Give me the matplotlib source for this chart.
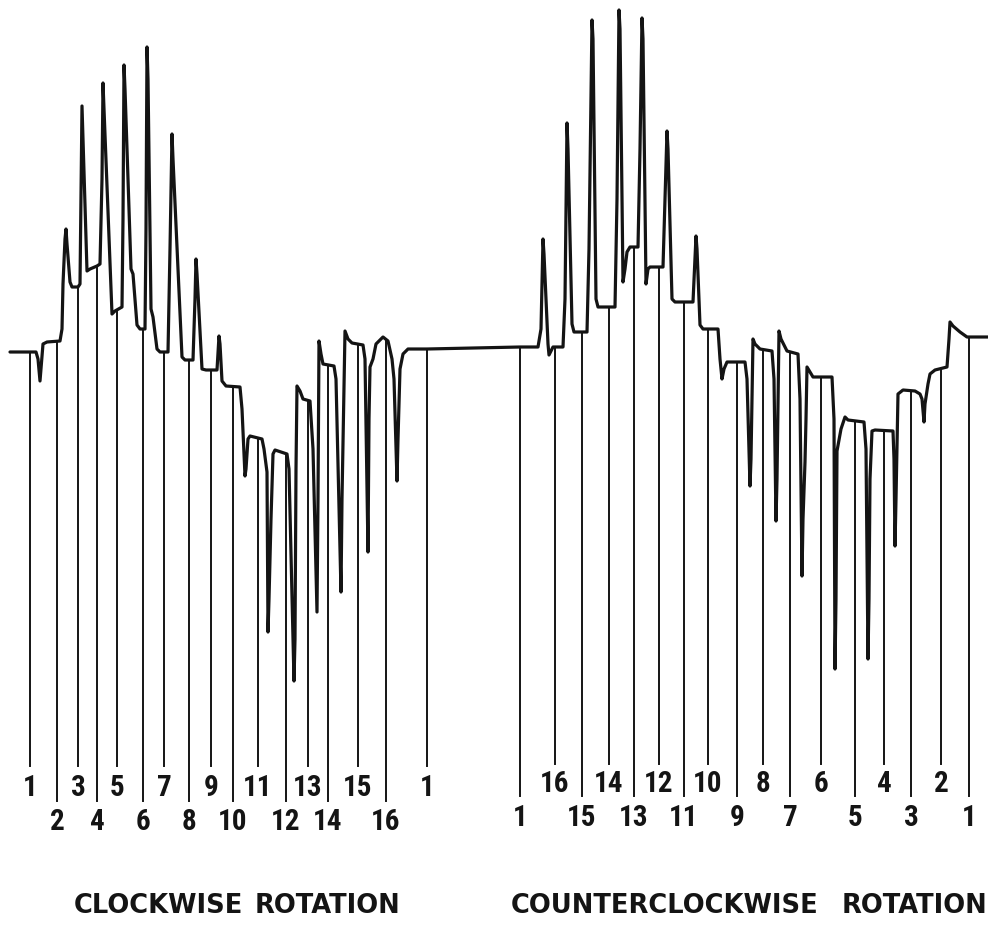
import numpy as np
import matplotlib
matplotlib.use('Agg')
import matplotlib.pyplot as plt
from matplotlib import font_manager

# pen trace (x, y in chart units, y grows downward)
trace_x = [10, 36, 38, 40, 41, 43, 47, 60, 62, 63, 65, 66, 67, 70, 72, 78, 80, 81, 82, 83, 87, 90, 97, 100,
           102, 103, 104, 112, 115, 122, 123, 124, 125, 131, 133, 137, 140, 145, 146, 147, 148, 151, 153, 157,
           160, 168, 170, 172, 173, 182, 185, 193, 195, 196, 197, 202, 206, 217, 219, 220, 222, 226, 240, 242,
           245, 246, 248, 250, 262, 264, 267, 268, 269, 271, 273, 275, 287, 289, 294, 295, 296, 297, 300, 303,
           310, 313, 317, 318, 319, 321, 323, 334, 336, 341, 342, 345, 348, 352, 363, 365, 368, 369, 370, 373,
           376, 383, 388, 392, 394, 397, 398, 400, 403, 408, 427, 520,
           538, 541, 543, 544, 548, 549, 551, 553, 563, 565, 567, 568, 572, 574, 587, 589, 592, 593, 596, 598,
           615, 617, 619, 620, 623, 625, 627, 630, 638, 640, 642, 643, 646, 648, 650, 663, 665, 667, 668, 672,
           675, 693, 695, 696, 697, 700, 703, 718, 720, 722, 724, 727, 745, 747, 750, 751, 753, 755, 760, 772,
           774, 776, 777, 779, 781, 787, 798, 800, 802, 803, 805, 806, 807, 810, 813, 832, 834, 835, 836, 837,
           841, 845, 848, 864, 866, 868, 869, 870, 872, 875, 893, 894, 895, 896, 898, 903, 915, 920, 922, 924,
           925, 928, 930, 935, 947, 949, 950, 953, 960, 967, 988]
trace_y = [353, 353, 360, 382, 370, 345, 343, 342, 330, 285, 240, 230, 245, 283, 288, 288, 285, 200, 107, 140,
           272, 270, 267, 265, 180, 84, 110, 315, 312, 308, 220, 66, 90, 270, 275, 326, 330, 330, 230, 48, 80,
           310, 318, 350, 353, 353, 250, 135, 160, 358, 361, 361, 300, 260, 275, 370, 371, 371, 337, 345, 382,
           387, 388, 410, 477, 470, 440, 437, 440, 450, 473, 633, 600, 520, 455, 451, 455, 470, 682, 640, 470,
           387, 392, 400, 402, 450, 613, 500, 342, 355, 365, 367, 380, 593, 500, 332, 340, 344, 346, 360, 553,
           420, 368, 360, 345, 338, 342, 360, 380, 482, 440, 370, 355, 350, 350, 348,
           348, 330, 240, 255, 345, 356, 352, 348, 348, 300, 124, 150, 325, 333, 333, 250, 21, 40, 300, 308,
           308, 200, 11, 30, 283, 270, 253, 248, 248, 150, 19, 40, 285, 270, 268, 268, 200, 132, 150, 300,
           303, 303, 260, 237, 250, 326, 330, 330, 360, 380, 370, 363, 363, 380, 487, 460, 340, 345, 350, 352,
           380, 522, 480, 332, 340, 352, 355, 400, 577, 520, 463, 420, 368, 373, 378, 378, 420, 670, 600, 452,
           430, 418, 421, 423, 450, 660, 600, 480, 432, 431, 432, 460, 547, 500, 395, 391, 392, 395, 400, 423,
           405, 385, 375, 371, 368, 340, 323, 327, 333, 338, 338]

# event marker positions and their numbers
cw_marks = [30, 57, 78, 97, 117, 143, 164, 189, 211, 233, 258, 286, 308, 328, 358, 386, 427]
cw_labels = ['1', '2', '3', '4', '5', '6', '7', '8', '9', '10', '11', '12', '13', '14', '15', '16', '1']
ccw_marks = [520, 555, 582, 609, 634, 659, 684, 708, 737, 763, 790, 821, 855, 884, 911, 941, 969]
ccw_labels = ['1', '16', '15', '14', '13', '12', '11', '10', '9', '8', '7', '6', '5', '4', '3', '2', '1']

# caption words and where each one is centred
cw_words = ['CLOCKWISE', 'ROTATION']
cw_word_x = [158, 327]
ccw_words = ['COUNTERCLOCKWISE', 'ROTATION']
ccw_word_x = [665, 914]

ink = '#141414'

# narrow lettering if we have it, else plain DejaVu a bit smaller
have = {f.name for f in font_manager.fontManager.ttflist}
if 'Roboto Condensed' in have:
    lab_family, lab_size = 'Roboto Condensed', 21
elif 'Liberation Sans Narrow' in have:
    lab_family, lab_size = 'Liberation Sans Narrow', 21
else:
    lab_family, lab_size = 'DejaVu Sans', 16.5

fig = plt.figure(figsize=(9.88, 9.29), dpi=100)
ax = fig.add_axes([0, 0, 1, 1])
ax.set_xlim(0, 988)
ax.set_ylim(929, 0)
ax.axis('off')

ax.plot(trace_x, trace_y, color=ink, lw=2.3, solid_joinstyle='round', solid_capstyle='round')

lab_font = dict(family=[lab_family, 'DejaVu Sans'], fontsize=lab_size, fontweight='bold',
                color=ink, ha='center', va='center')


def draw_marks(marks, labels, top_row_first, row_y, line_end):
    tops = np.interp(marks, trace_x, trace_y)
    for i, (mx, top, lab) in enumerate(zip(marks, tops, labels)):
        upper = (i % 2 == 0) == top_row_first
        ax.plot([mx, mx], [top, line_end[0] if upper else line_end[1]], color=ink, lw=1.4)
        ax.text(mx, row_y[0] if upper else row_y[1], lab, **lab_font)


draw_marks(cw_marks, cw_labels, True, (788, 822), (767, 802))
draw_marks(ccw_marks, ccw_labels, False, (784, 818), (765, 797))

cap_font = dict(family=['DejaVu Sans'], fontsize=18.5, fontweight='bold', color=ink,
                ha='center', va='center')
for word, wx in zip(cw_words + ccw_words, cw_word_x + ccw_word_x):
    ax.text(wx, 906, word, **cap_font)

fig.savefig('out.png', dpi=100, facecolor='white')
